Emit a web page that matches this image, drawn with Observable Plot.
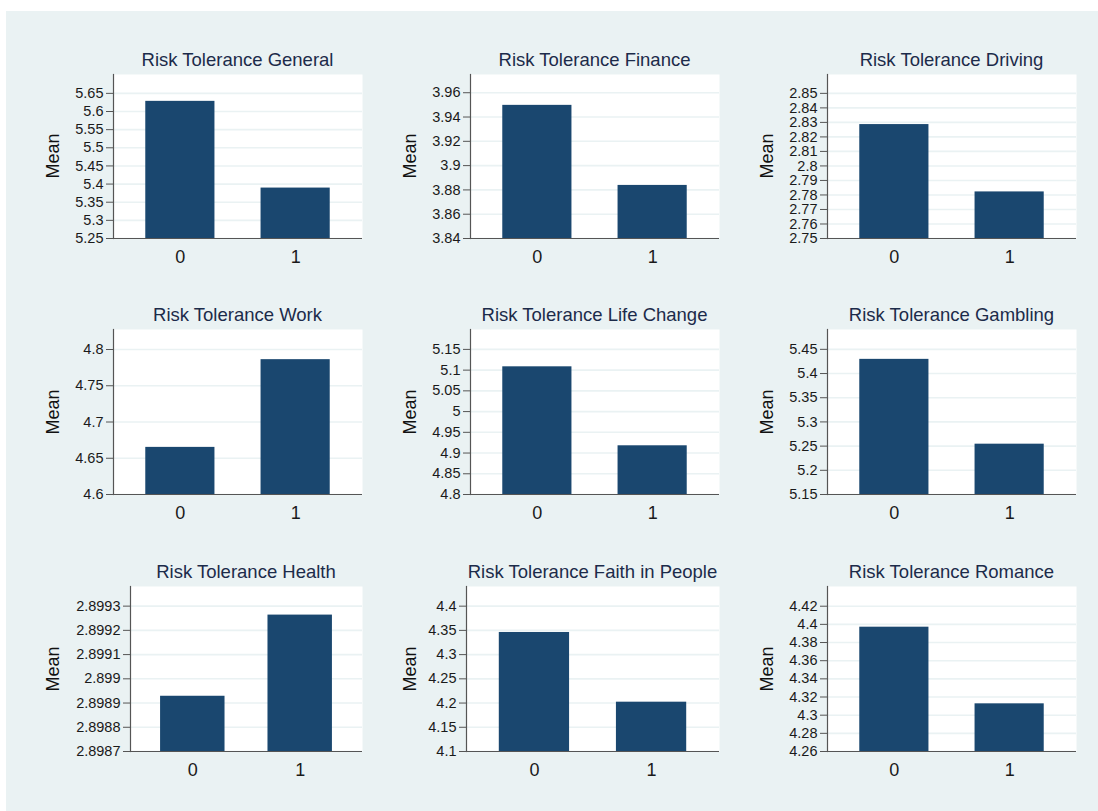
<!DOCTYPE html>
<html>
<head>
<meta charset="utf-8">
<script src="https://cdn.jsdelivr.net/npm/d3@7"></script>
<script src="https://cdn.jsdelivr.net/npm/@observablehq/plot@0.6"></script>
<style>
  html, body { margin: 0; padding: 0; background: #ffffff; }
  #root { position: relative; width: 1098px; height: 811px; overflow: hidden; font-family: "Liberation Sans", Arial, sans-serif; }
  #bg { position: absolute; left: 6px; top: 11px; right: 0; bottom: 0; background: #eaf2f3; }
  .panel { position: absolute; }
  .panel g[aria-label="y-axis tick label"], .panel g[aria-label="y-axis tick label"] text { font-size: 14.5px; fill: #1a1a1a; }
  .panel g[aria-label="x-axis tick label"], .panel g[aria-label="x-axis tick label"] text { font-size: 18px; fill: #1a1a1a; }
  .title { position: absolute; font-size: 18.5px; color: #1c2b4a; white-space: nowrap; transform: translate(-50%, -50%); }
  .ylab { position: absolute; font-size: 18px; color: #111; white-space: nowrap; transform: translate(-50%, -50%) rotate(-90deg); }
</style>
</head>
<body>
<div id="root"><div id="bg"></div></div>
<script>
// ---- data ----
const titles = [
  "Risk Tolerance General", "Risk Tolerance Finance", "Risk Tolerance Driving",
  "Risk Tolerance Work", "Risk Tolerance Life Change", "Risk Tolerance Gambling",
  "Risk Tolerance Health", "Risk Tolerance Faith in People", "Risk Tolerance Romance"
];
const groups = [0, 1];
const means0 = [5.628, 3.9496, 2.8285, 4.665, 5.108, 5.4293, 2.898928, 4.3457, 4.3969];
const means1 = [5.389, 3.8837, 2.7821, 4.786, 4.9175, 5.254, 2.899263, 4.2018, 4.3125];
const yTicks = [
  [5.25, 5.3, 5.35, 5.4, 5.45, 5.5, 5.55, 5.6, 5.65],
  [3.84, 3.86, 3.88, 3.9, 3.92, 3.94, 3.96],
  [2.75, 2.76, 2.77, 2.78, 2.79, 2.8, 2.81, 2.82, 2.83, 2.84, 2.85],
  [4.6, 4.65, 4.7, 4.75, 4.8],
  [4.8, 4.85, 4.9, 4.95, 5, 5.05, 5.1, 5.15],
  [5.15, 5.2, 5.25, 5.3, 5.35, 5.4, 5.45],
  [2.8987, 2.8988, 2.8989, 2.899, 2.8991, 2.8992, 2.8993],
  [4.1, 4.15, 4.2, 4.25, 4.3, 4.35, 4.4],
  [4.26, 4.28, 4.3, 4.32, 4.34, 4.36, 4.38, 4.4, 4.42]
];
const yMax = [5.702, 3.975, 2.863, 4.8276, 5.198, 5.491, 2.899381, 4.4406, 4.4417];
const yLabel = "Mean";

// ---- layout ----
const colX = [0, 357, 714];
const rowTop = [74, 329, 586];
const rowBottom = [238, 494, 751];
const plotLeft = [113, 470, 827, 113, 470, 827, 130, 466, 827];
const svgW = 372, plotRightOff = 362;
const root = document.getElementById("root");

titles.forEach((title, i) => {
  const r = Math.floor(i / 3), c = i % 3;
  const x0 = colX[c];
  const top = rowTop[r], bottom = rowBottom[r];
  const mTop = 20, mBottom = 40;
  const lo = yTicks[i][0];
  const data = groups.map((g, j) => ({group: g, mean: j === 0 ? means0[i] : means1[i]}));

  const chart = Plot.plot({
    width: svgW,
    height: bottom - top + mTop + mBottom,
    marginTop: mTop,
    marginBottom: mBottom,
    marginLeft: plotLeft[i] - x0,
    marginRight: svgW - plotRightOff,
    style: {background: "transparent", fontFamily: "'Liberation Sans', Arial, sans-serif", color: "#1a1a1a"},
    x: {type: "linear", domain: [-0.58, 1.58]},
    y: {domain: [lo, yMax[i]]},
    marks: [
      Plot.frame({fill: "#ffffff", stroke: "none"}),
      Plot.gridY(yTicks[i], {stroke: "#eaf2f3", strokeOpacity: 1, strokeWidth: 1.6}),
      Plot.rectY(data, {x1: d => d.group - 0.3, x2: d => d.group + 0.3, y1: () => lo, y2: "mean", fill: "#1a476f"}),
      Plot.ruleY([lo], {stroke: "#555555", strokeWidth: 1.2}),
      Plot.frame({anchor: "left", stroke: "#555555", strokeWidth: 1.2}),
      Plot.axisY({ticks: yTicks[i], tickFormat: "~g", tickSize: 7, tickPadding: 3, fontSize: 14.5, stroke: "#555555", label: null}),
      Plot.axisX({ticks: groups, tickFormat: d => String(d), tickSize: 0, tickPadding: 12, fontSize: 18, label: null})
    ]
  });
  chart.classList.add("panel");
  chart.style.left = x0 + "px";
  chart.style.top = (top - mTop) + "px";
  root.appendChild(chart);

  const t = document.createElement("div");
  t.className = "title";
  t.textContent = title;
  t.style.left = ((plotLeft[i] + x0 + plotRightOff) / 2) + "px";
  t.style.top = (top - 14) + "px";
  root.appendChild(t);

  const yl = document.createElement("div");
  yl.className = "ylab";
  yl.textContent = yLabel;
  yl.style.left = (x0 + 53) + "px";
  yl.style.top = ((top + bottom) / 2) + "px";
  root.appendChild(yl);
});
</script>
</body>
</html>
